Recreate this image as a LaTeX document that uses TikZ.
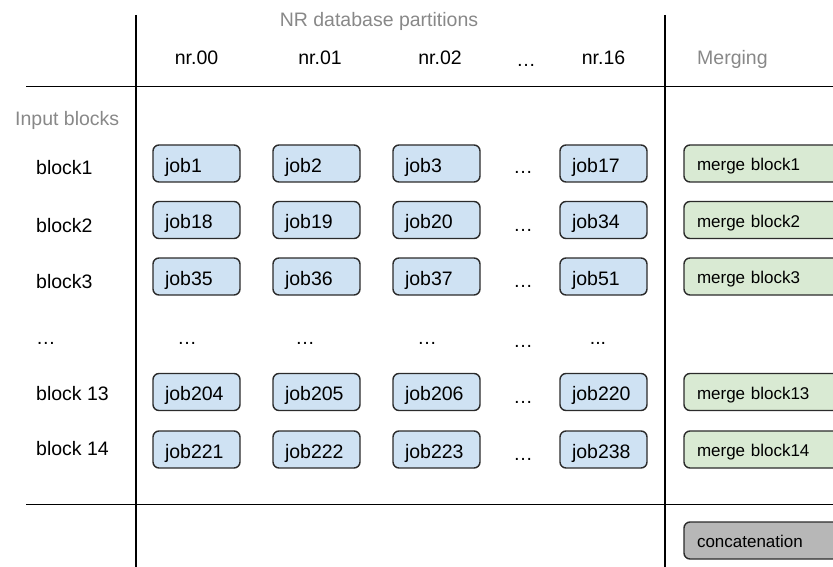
\documentclass[tikz,border=0pt]{standalone}
\usepackage{fontspec}
\setmainfont{Liberation Sans}
\definecolor{jobblue}{HTML}{CFE2F3}
\definecolor{mergegreen}{HTML}{D9EAD3}
\definecolor{concatgray}{HTML}{B7B7B7}
\definecolor{boxedge}{HTML}{2B2B2B}
\definecolor{labelgray}{HTML}{888888}
\begin{document}
\begin{tikzpicture}[x=1pt,y=-1pt,
  txt/.style={font=\fontsize{19.5}{22}\selectfont, inner sep=0pt},
  lbl/.style={txt, anchor=base west},
  hdr/.style={txt, anchor=base},
  dim/.style={text=labelgray},
  rule/.style={line width=1.6pt, black},
  jobbox/.style={draw=boxedge, line width=1.4pt, fill=jobblue, rounded corners=6pt,
    minimum width=87pt, minimum height=37pt, inner xsep=0pt, inner ysep=0pt,
    text width=63pt, align=left, font=\fontsize{19.5}{22}\selectfont,
    text height=17pt, text depth=0pt},
  mergebox/.style={jobbox, fill=mergegreen, minimum width=170pt, text width=144pt,
    font=\fontsize{17}{20}\selectfont, text height=14pt},
  catbox/.style={mergebox, fill=concatgray}
]
\useasboundingbox (0,0) rectangle (833,567);
\clip (0,0) rectangle (833,567);

% grid lines
\coordinate (vLt) at (136,15);
\coordinate (vLb) at (136,570);
\coordinate (vRt) at (665,15);
\coordinate (vRb) at (665,570);
\coordinate (hTl) at (26,86.5);
\coordinate (hTr) at (840,86.5);
\coordinate (hBl) at (26,504.5);
\coordinate (hBr) at (840,504.5);
\draw[rule] (vLt) -- (vLb);
\draw[rule] (vRt) -- (vRb);
\draw[rule] (hTl) -- (hTr);
\draw[rule] (hBl) -- (hBr);

% headers
\node[hdr, dim] (title) at (379,27) {NR database partitions};
\node[hdr] (h0) at (196.5,65) {nr.00};
\node[hdr] (h1) at (320,65) {nr.01};
\node[hdr] (h2) at (440,65) {nr.02};
\node[hdr] (hd) at (526,67) {…};
\node[hdr] (h16) at (603.5,65) {nr.16};
\node[lbl, dim] (hm) at (697,65) {Merging};
\node[lbl, dim] (hin) at (15,126) {Input blocks};

% row labels
\node[lbl] (b1) at (36,175) {block1};
\node[lbl] (b2) at (36,232) {block2};
\node[lbl] (b3) at (36,288) {block3};
\node[lbl] (bd) at (36,344) {…};
\node[lbl] (b13) at (36,400) {block 13};
\node[lbl] (b14) at (36,455) {block 14};

% row 1
\node[jobbox] (j1) at (196.5,163.5) {job1};
\node[jobbox] (j2) at (316.5,163.5) {job2};
\node[jobbox] (j3) at (436.5,163.5) {job3};
\node[hdr] (d1) at (523,174) {…};
\node[jobbox] (j17) at (603.5,163.5) {job17};
\node[mergebox] (m1) at (769,163.5) {merge block1};
% row 2
\node[jobbox] (j18) at (196.5,220) {job18};
\node[jobbox] (j19) at (316.5,220) {job19};
\node[jobbox] (j20) at (436.5,220) {job20};
\node[hdr] (d2) at (523,231) {…};
\node[jobbox] (j34) at (603.5,220) {job34};
\node[mergebox] (m2) at (769,220) {merge block2};
% row 3
\node[jobbox] (j35) at (196.5,276.5) {job35};
\node[jobbox] (j36) at (316.5,276.5) {job36};
\node[jobbox] (j37) at (436.5,276.5) {job37};
\node[hdr] (d3) at (523,287) {…};
\node[jobbox] (j51) at (603.5,276.5) {job51};
\node[mergebox] (m3) at (769,276.5) {merge block3};
% dots row
\node[hdr] (e0) at (187,344) {…};
\node[hdr] (e1) at (305,344) {…};
\node[hdr] (e2) at (427,344) {…};
\node[hdr] (e3) at (523,347) {…};
\node[hdr] (e4) at (598,344) {...};
% row 13
\node[jobbox] (j204) at (196.5,392) {job204};
\node[jobbox] (j205) at (316.5,392) {job205};
\node[jobbox] (j206) at (436.5,392) {job206};
\node[hdr] (d13) at (523,403) {…};
\node[jobbox] (j220) at (603.5,392) {job220};
\node[mergebox] (m13) at (769,392) {merge block13};
% row 14
\node[jobbox] (j221) at (196.5,449.5) {job221};
\node[jobbox] (j222) at (316.5,449.5) {job222};
\node[jobbox] (j223) at (436.5,449.5) {job223};
\node[hdr] (d14) at (523,460) {…};
\node[jobbox] (j238) at (603.5,449.5) {job238};
\node[mergebox] (m14) at (769,449.5) {merge block14};

% concatenation
\node[catbox] (cat) at (769,540.5) {concatenation};
\end{tikzpicture}
\end{document}
